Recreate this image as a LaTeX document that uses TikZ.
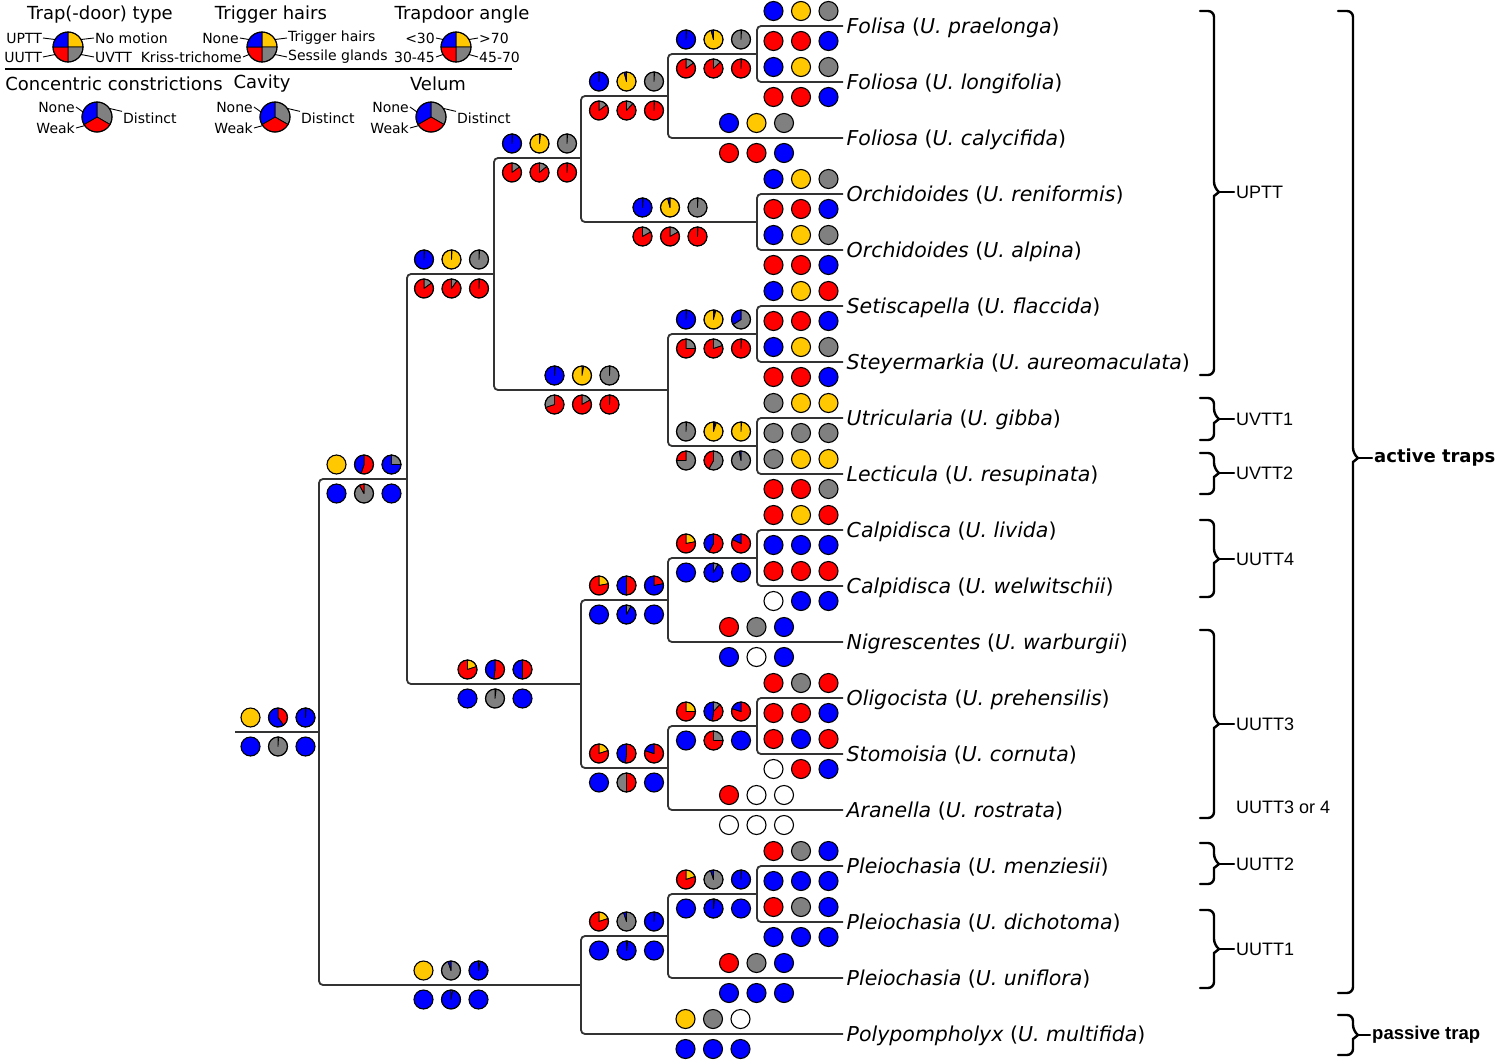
\documentclass[tikz,border=0pt]{standalone}
\usepackage{fontspec}
\setmainfont{DejaVu Sans}
\newfontfamily\arialfont{Liberation Sans}

\definecolor{cb}{RGB}{0,0,255}
\definecolor{cy}{RGB}{255,200,0}
\definecolor{cr}{RGB}{255,0,0}
\definecolor{cg}{RGB}{128,128,128}
\definecolor{cw}{RGB}{255,255,255}

% one pie: [radius]{x}{y}{colour/percent,...}, slices run clockwise from 12 o'clock
\newcommand{\trpie}[4][9.5pt]{%
  \xdef\pieang{90}%
  \foreach \c/\p in {#4}{%
    \ifdim\p pt<99.9pt
      \pgfmathsetmacro\pieend{\pieang-3.6*\p}%
      \filldraw[fill=\c, draw=black, line width=0.8pt, line join=round] (#2,#3) -- ++(\pieang:#1) arc[start angle=\pieang, end angle=\pieend, radius=#1] -- cycle;
      \xdef\pieang{\pieend}%
    \else
      \fill[\c] (#2,#3) circle[radius=#1];
    \fi
  }%
  \draw[line width=1.1pt] (#2,#3) circle[radius=#1];
}
% three pies side by side
\newcommand{\pierow}[5]{%
  \trpie{#1-27.5}{#2}{#3}\trpie{#1}{#2}{#4}\trpie{#1+27.5}{#2}{#5}}
% pies of an inner node: above = trap type, hairs, angle; below = constrictions, cavity, velum
\newcommand{\nodepies}[8]{%
  \pierow{#1}{#2-14.5}{#3}{#4}{#5}%
  \pierow{#1}{#2+14.5}{#6}{#7}{#8}}
% pies of a tip, one colour each
\newcommand{\tippies}[8]{%
  \pierow{#1}{#2-15}{#3/100}{#4/100}{#5/100}%
  \pierow{#1}{#2+15}{#6/100}{#7/100}{#8/100}}
% section and species
\newcommand{\taxon}[2]{\textit{#1} (\textit{U. #2})}
% bracket: {x end}{x back}{y top}{y point}{y bottom}
\newcommand{\clbrace}[5]{%
  \draw[brace, rounded corners=6pt] (#1,#3) -- (#2,#3) -- (#2,#4-4) [sharp corners] -- (#2+5,#4) -- (#2,#4+4) [rounded corners=6pt] -- (#2,#5) -- (#1,#5);}

\begin{document}
\begin{tikzpicture}[x=1pt, y=-1pt,
  branch/.style={line width=1.8pt, draw=black!80, rounded corners=4pt},
  tip/.style={anchor=west, inner sep=3.5pt, text height=15pt, text depth=0pt, font=\fontsize{20.5}{24}\selectfont},
  head/.style={inner sep=1pt, font=\fontsize{18}{21}\selectfont},
  key/.style={inner sep=1pt, font=\fontsize{14}{16}\selectfont},
  leader/.style={line width=0.9pt},
  brace/.style={line width=2.4pt, line cap=round},
  group/.style={anchor=west, inner sep=2pt, font=\arialfont\fontsize{18}{21}\selectfont},
  class/.style={anchor=west, inner sep=2pt}]

\useasboundingbox (0,0) rectangle (1500,1061);

% legend
\node[head] (hType) at (100,15) {Trap(-door) type};
\node[head] (hHair) at (271,15) {Trigger hairs};
\node[head] (hAngle) at (462,15) {Trapdoor angle};
\coordinate (lType) at (68,47);
\coordinate (lHair) at (262,47);
\coordinate (lAngle) at (456,47);
\trpie[15pt]{68}{47}{cy/25,cg/25,cr/25,cb/25}
\trpie[15pt]{262}{47}{cy/25,cg/25,cr/25,cb/25}
\trpie[15pt]{456}{47}{cy/25,cg/25,cr/25,cb/25}
\node[key, anchor=east] (kUPTT) at (43,38) {UPTT};
\node[key, anchor=east] (kUUTT) at (43,57) {UUTT};
\node[key, anchor=west] (kNoMo) at (94,38) {No motion};
\node[key, anchor=west] (kUVTT) at (94,57) {UVTT};
\node[key, anchor=east] (kNoHair) at (240,38) {None};
\node[key, anchor=east] (kKriss) at (243,57) {Kriss-trichome};
\node[key, anchor=west] (kHair) at (287,38) {Trigger hairs};
\node[key, anchor=west] (kSess) at (287,57) {Sessile glands};
\node[key, anchor=east] (kA30) at (436,38) {<30};
\node[key, anchor=east] (kA45) at (436,57) {30-45};
\node[key, anchor=west] (kA70) at (478,38) {>70};
\node[key, anchor=west] (kA4570) at (478,57) {45-70};
\foreach \c/\tl/\bl/\tr/\br in {Type/kUPTT/kUUTT/kNoMo/kUVTT, Hair/kNoHair/kKriss/kHair/kSess, Angle/kA30/kA45/kA70/kA4570}{
  \draw[leader] (\tl.east) -- ([shift={(150:15pt)}]l\c);
  \draw[leader] (\bl.east) -- ([shift={(210:15pt)}]l\c);
  \draw[leader] (\tr.west) -- ([shift={(30:15pt)}]l\c);
  \draw[leader] (\br.west) -- ([shift={(-30:15pt)}]l\c);
}
\draw[line width=1.2pt] (5,69) -- (512,69);

\node[head] (hCons) at (114,84) {Concentric constrictions};
\node[head] (hCav) at (262,84) {Cavity};
\node[head] (hVel) at (438,84) {Velum};
\coordinate (lCons) at (97,117);
\coordinate (lCav) at (275,117);
\coordinate (lVel) at (431,117);
\trpie[15pt]{97}{117}{cg/33.33,cr/33.33,cb/33.34}
\trpie[15pt]{275}{117}{cg/33.33,cr/33.33,cb/33.34}
\trpie[15pt]{431}{117}{cg/33.33,cr/33.33,cb/33.34}
\foreach \c/\xn/\xd in {Cons/76/122,Cav/254/300,Vel/410/456}{
  \node[key, anchor=east] (kNone\c) at (\xn,107) {None};
  \node[key, anchor=east] (kWeak\c) at (\xn,128) {Weak};
  \node[key, anchor=west] (kDist\c) at (\xd,118) {Distinct};
  \draw[leader] (kNone\c.east) -- ([shift={(160:15pt)}]l\c);
  \draw[leader] (kWeak\c.east) -- ([shift={(215:15pt)}]l\c);
  \draw[leader] ([shift={(35:15pt)}]l\c) -- (kDist\c.north west);
}

% tree
\coordinate (root0) at (235,732);
\coordinate (nRoot) at (319,732);
\coordinate (nA) at (407,479);
\coordinate (nB) at (494,274);
\coordinate (nC) at (581,158);
\coordinate (nD) at (668,96);
\coordinate (nE) at (757,54);
\coordinate (nF) at (757,222);
\coordinate (nG) at (668,390);
\coordinate (nH) at (757,334);
\coordinate (nI) at (757,446);
\coordinate (nJ) at (581,684);
\coordinate (nK) at (668,600);
\coordinate (nL) at (757,558);
\coordinate (nM) at (668,768);
\coordinate (nN) at (757,726);
\coordinate (nO) at (581,985);
\coordinate (nP) at (668,936);
\coordinate (nQ) at (757,894);

\node[tip] (t1) at (843,26) {\taxon{Folisa}{praelonga}};
\node[tip] (t2) at (843,82) {\taxon{Foliosa}{longifolia}};
\node[tip] (t3) at (843,138) {\taxon{Foliosa}{calycifida}};
\node[tip] (t4) at (843,194) {\taxon{Orchidoides}{reniformis}};
\node[tip] (t5) at (843,250) {\taxon{Orchidoides}{alpina}};
\node[tip] (t6) at (843,306) {\taxon{Setiscapella}{flaccida}};
\node[tip] (t7) at (843,362) {\taxon{Steyermarkia}{aureomaculata}};
\node[tip] (t8) at (843,418) {\taxon{Utricularia}{gibba}};
\node[tip] (t9) at (843,474) {\taxon{Lecticula}{resupinata}};
\node[tip] (t10) at (843,530) {\taxon{Calpidisca}{livida}};
\node[tip] (t11) at (843,586) {\taxon{Calpidisca}{welwitschii}};
\node[tip] (t12) at (843,642) {\taxon{Nigrescentes}{warburgii}};
\node[tip] (t13) at (843,698) {\taxon{Oligocista}{prehensilis}};
\node[tip] (t14) at (843,754) {\taxon{Stomoisia}{cornuta}};
\node[tip] (t15) at (843,810) {\taxon{Aranella}{rostrata}};
\node[tip] (t16) at (843,866) {\taxon{Pleiochasia}{menziesii}};
\node[tip] (t17) at (843,922) {\taxon{Pleiochasia}{dichotoma}};
\node[tip] (t18) at (843,978) {\taxon{Pleiochasia}{uniflora}};
\node[tip] (t19) at (843,1034) {\taxon{Polypompholyx}{multifida}};

\draw[branch] (root0) -- (nRoot);
\draw[branch] (nA) -| (nRoot) |- (nO);
\draw[branch] (nB) -| (nA) |- (nJ);
\draw[branch] (nC) -| (nB) |- (nG);
\draw[branch] (nD) -| (nC) |- (nF);
\draw[branch] (nE) -| (nD) |- (t3.west);
\draw[branch] (t1.west) -| (nE) |- (t2.west);
\draw[branch] (t4.west) -| (nF) |- (t5.west);
\draw[branch] (nH) -| (nG) |- (nI);
\draw[branch] (t6.west) -| (nH) |- (t7.west);
\draw[branch] (t8.west) -| (nI) |- (t9.west);
\draw[branch] (nK) -| (nJ) |- (nM);
\draw[branch] (nL) -| (nK) |- (t12.west);
\draw[branch] (t10.west) -| (nL) |- (t11.west);
\draw[branch] (nN) -| (nM) |- (t15.west);
\draw[branch] (t13.west) -| (nN) |- (t14.west);
\draw[branch] (nP) -| (nO) |- (t19.west);
\draw[branch] (nQ) -| (nP) |- (t18.west);
\draw[branch] (t16.west) -| (nQ) |- (t17.west);

% pies of the inner nodes
\nodepies{278}{732}{cy/100}{cr/40,cb/60}{cg/1,cb/99}{cb/100}{cb/1,cg/99}{cb/100}
\nodepies{364}{479}{cy/100}{cr/55,cb/45}{cg/25,cb/75}{cb/100}{cg/92,cr/8}{cb/100}
\nodepies{451.5}{274}{cg/1,cb/99}{cb/1,cy/99}{cb/1,cg/99}{cg/15,cr/85}{cg/10,cr/90}{cg/1,cr/99}
\nodepies{539.5}{158}{cg/1,cb/99}{cb/2,cy/98}{cb/1,cg/99}{cg/15,cr/85}{cg/14,cr/86}{cg/1,cr/99}
\nodepies{626.5}{96}{cg/1,cb/99}{cy/96,cb/4}{cb/1,cg/99}{cg/15,cr/85}{cg/12,cr/88}{cg/1,cr/99}
\nodepies{713.5}{54}{cg/1,cb/99}{cy/96,cb/4}{cb/1,cg/99}{cg/15,cr/85}{cg/13,cr/87}{cg/1,cr/99}
\nodepies{670}{222}{cg/1,cb/99}{cy/96,cb/4}{cb/1,cg/99}{cg/17,cr/83}{cg/17,cr/83}{cg/1,cr/99}
\nodepies{582}{390}{cg/1,cb/99}{cb/3,cy/97}{cb/1,cg/99}{cr/70,cg/30}{cg/17,cr/83}{cg/1,cr/99}
\nodepies{713.5}{334}{cg/1,cb/99}{cr/2,cb/2,cy/96}{cg/66,cb/34}{cg/25,cr/75}{cg/20,cr/80}{cg/1,cr/99}
\nodepies{713.5}{446}{cb/1,cg/99}{cr/2,cb/3,cy/95}{cg/1,cy/99}{cg/75,cr/25}{cg/58,cr/42}{cg/97,cb/3}
\nodepies{495}{684}{cy/20,cr/80}{cr/52,cb/48}{cr/50,cb/50}{cb/100}{cb/2,cg/98}{cb/100}
\nodepies{626.5}{600}{cy/22,cr/78}{cr/50,cb/50}{cr/22,cb/78}{cb/100}{cg/8,cb/92}{cb/100}
\nodepies{713.5}{558}{cy/22,cr/78}{cr/58,cb/42}{cr/82,cb/18}{cb/100}{cg/8,cb/92}{cb/100}
\nodepies{626.5}{768}{cy/20,cr/80}{cr/52,cb/48}{cr/80,cb/20}{cb/100}{cr/50,cg/50}{cb/100}
\nodepies{713.5}{726}{cy/25,cr/75}{cg/12,cr/40,cb/48}{cr/80,cb/20}{cb/100}{cg/25,cr/75}{cb/100}
\nodepies{451}{985}{cy/100}{cg/95,cb/5}{cg/3,cb/97}{cb/100}{cg/3,cb/97}{cb/100}
\nodepies{626.5}{936}{cy/20,cr/80}{cg/95,cb/5}{cg/1,cb/99}{cb/100}{cg/2,cb/98}{cb/100}
\nodepies{713.5}{894}{cy/20,cr/80}{cg/95,cb/5}{cg/1,cb/99}{cb/100}{cg/2,cb/98}{cb/100}

% pies of the tips
\tippies{801}{26}{cb}{cy}{cg}{cr}{cr}{cb}
\tippies{801}{82}{cb}{cy}{cg}{cr}{cr}{cb}
\tippies{756.5}{138}{cb}{cy}{cg}{cr}{cr}{cb}
\tippies{801}{194}{cb}{cy}{cg}{cr}{cr}{cb}
\tippies{801}{250}{cb}{cy}{cg}{cr}{cr}{cb}
\tippies{801}{306}{cb}{cy}{cr}{cr}{cr}{cb}
\tippies{801}{362}{cb}{cy}{cg}{cr}{cr}{cb}
\tippies{801}{418}{cg}{cy}{cy}{cg}{cg}{cg}
\tippies{801}{474}{cg}{cy}{cy}{cr}{cr}{cg}
\tippies{801}{530}{cr}{cy}{cr}{cb}{cb}{cb}
\tippies{801}{586}{cr}{cr}{cr}{cw}{cb}{cb}
\tippies{756.5}{642}{cr}{cg}{cb}{cb}{cw}{cb}
\tippies{801}{698}{cr}{cg}{cr}{cr}{cr}{cb}
\tippies{801}{754}{cr}{cb}{cr}{cw}{cr}{cb}
\tippies{756.5}{810}{cr}{cw}{cw}{cw}{cw}{cw}
\tippies{801}{866}{cr}{cg}{cb}{cb}{cb}{cb}
\tippies{801}{922}{cr}{cg}{cb}{cb}{cb}{cb}
\tippies{756.5}{978}{cr}{cg}{cb}{cb}{cb}{cb}
\tippies{713}{1034}{cy}{cg}{cw}{cb}{cb}{cb}

% trap groups
\clbrace{1200}{1214}{11}{192}{375}
\clbrace{1200}{1214}{398}{419}{440}
\clbrace{1200}{1214}{453}{473}{494}
\clbrace{1200}{1214}{520}{559}{597}
\clbrace{1200}{1214}{630}{724}{818}
\clbrace{1200}{1214}{843}{864}{884}
\clbrace{1200}{1214}{910}{949}{988}
\clbrace{1338}{1353}{11}{458}{993}
\clbrace{1338}{1353}{1015}{1035}{1055}
\foreach \n/\y/\t in {UPTT/192/UPTT, UVTTa/419/UVTT1, UVTTb/473/UVTT2, UUTTd/559/UUTT4, UUTTc/724/UUTT3, UUTTb/864/UUTT2, UUTTa/949/UUTT1}{
  \coordinate (k\n) at (1219,\y);
  \node[group] (g\n) at (1234,\y) {\t};
  \draw[brace] (k\n) -- (g\n.west);
}
\node[group] (gUUTTcd) at (1234,807) {UUTT3 or 4};
\coordinate (kActive) at (1358,458);
\node[class, font=\bfseries\fontsize{18}{21}\selectfont] (cActive) at (1372,458) {active traps};
\draw[brace] (kActive) -- (cActive.west);
\coordinate (kPassive) at (1358,1035);
\node[class, font=\arialfont\bfseries\fontsize{18.5}{21}\selectfont] (cPassive) at (1370,1035) {passive trap};
\draw[brace] (kPassive) -- (cPassive.west);
\end{tikzpicture}
\end{document}
